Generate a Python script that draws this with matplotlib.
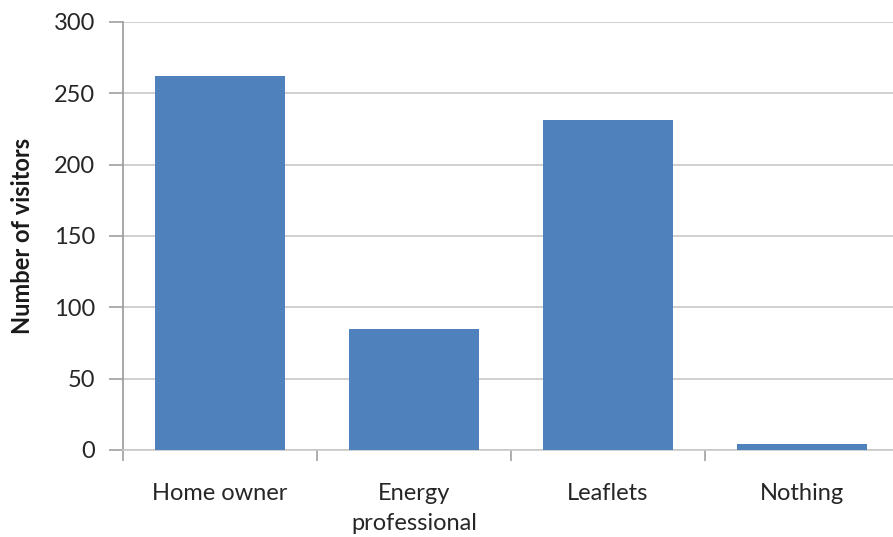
import matplotlib
matplotlib.use("Agg")
import matplotlib.pyplot as plt
import numpy as np

categories = ["Home owner", "Energy\nprofessional", "Leaflets", "Nothing"]
values = [262, 85, 231, 4]
yticks = [0, 50, 100, 150, 200, 250, 300]

plt.rcParams['font.family'] = ['Lato', 'DejaVu Sans']

fig = plt.figure(figsize=(8.93, 5.37), dpi=100)
W, H = 893, 537
left, right, top, bottom = 123, 899, 22, 450
ax = fig.add_axes([left / W, 1 - bottom / H, (right - left) / W, (bottom - top) / H])

x = np.arange(len(categories))
ax.bar(x, values, width=0.67, color="#4F81BD", zorder=3)

ax.set_xlim(-0.5, len(categories) - 0.5)
ax.set_ylim(0, 300)
ax.set_yticks(yticks)
ax.set_yticklabels([str(v) for v in yticks])
ax.yaxis.grid(True, color="#C8C8C8", linewidth=1.2, zorder=0)
ax.set_axisbelow(True)

ax.set_xticks(np.arange(len(categories) + 1) - 0.5, minor=False)
ax.set_xticklabels([])
ax.set_xticks(x, minor=True)
ax.set_xticklabels(categories, minor=True, fontsize=17, color="#262626", linespacing=1.5)
ax.tick_params(axis='x', which='major', length=8, width=1.2, color="#A0A0A0", direction='out')
ax.tick_params(axis='x', which='minor', length=0, pad=24)
ax.tick_params(axis='y', length=10, width=1.2, color="#A0A0A0", labelsize=17, labelcolor="#262626", pad=10)

for s in ["top", "right"]:
    ax.spines[s].set_visible(False)
ax.spines["left"].set_color("#A0A0A0")
ax.spines["left"].set_linewidth(1.3)
ax.spines["bottom"].set_color("#C8C8C8")
ax.spines["bottom"].set_linewidth(1.2)

ax.set_ylabel("Number of visitors", fontsize=17, fontweight="bold", color="#1a1a1a", labelpad=14)

fig.savefig("out.png", dpi=100)
